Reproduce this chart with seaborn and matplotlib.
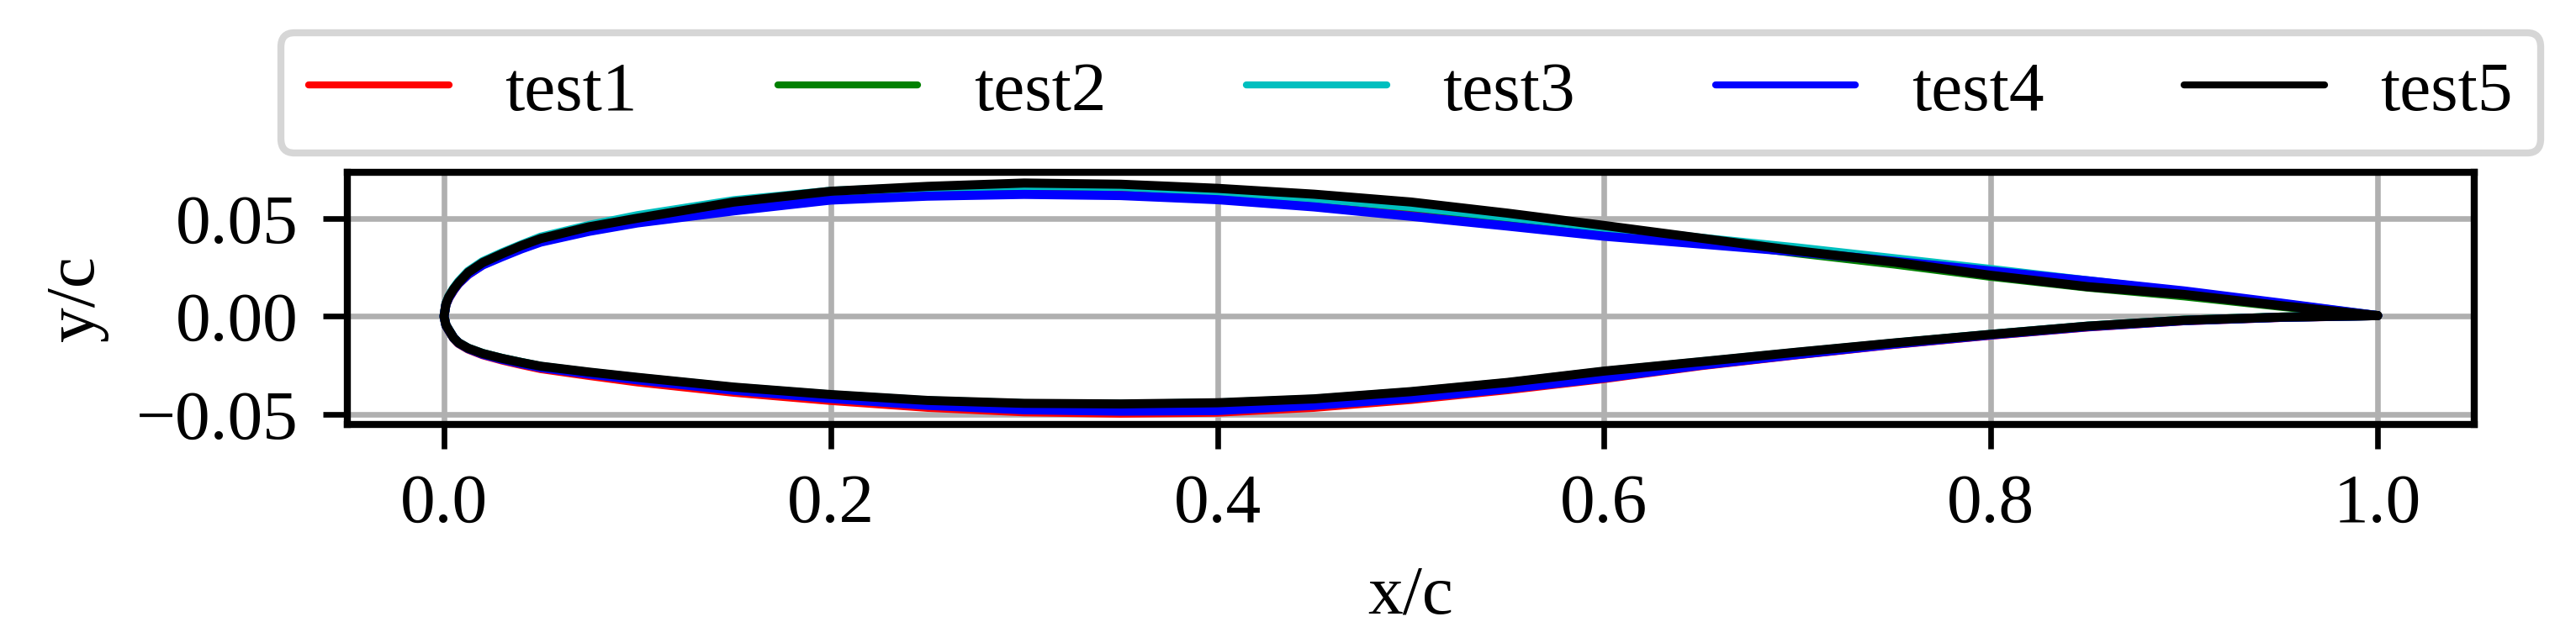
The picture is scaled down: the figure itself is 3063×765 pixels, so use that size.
import matplotlib
matplotlib.use("Agg")
import matplotlib.pyplot as plt
import pandas as pd
import seaborn as sns

# chord stations (x/c), shared by every test
X_STATIONS = [0.0, 0.001, 0.0025, 0.005, 0.0075, 0.0125, 0.02, 0.03, 0.04, 0.05, 0.075,
              0.1, 0.15, 0.2, 0.25, 0.3, 0.35, 0.4, 0.45, 0.5, 0.55, 0.6, 0.65, 0.7,
              0.75, 0.8, 0.85, 0.9, 0.95, 1.0]

# upper / lower surface y/c
TEST1_UPPER = [0.0, 0.0061, 0.0095, 0.0135, 0.0168, 0.0215, 0.0265, 0.0310, 0.0350, 0.0385,
               0.0440, 0.0485, 0.0550, 0.0600, 0.0622, 0.0632, 0.0630, 0.0615, 0.0585,
               0.0545, 0.0495, 0.0438, 0.0385, 0.0332, 0.0278, 0.0225, 0.0170, 0.0118,
               0.0060, 0.0004]
TEST1_LOWER = [0.0, -0.0046, -0.0072, -0.0112, -0.0138, -0.0167, -0.0196, -0.0223, -0.0246,
               -0.0267, -0.0302, -0.0335, -0.0388, -0.0430, -0.0465, -0.0488, -0.0495,
               -0.0490, -0.0465, -0.0425, -0.0375, -0.0318, -0.0252, -0.0196, -0.0143,
               -0.0096, -0.0054, -0.0022, -0.0005, 0.0004]

TEST2_UPPER = [0.0, 0.0063, 0.0100, 0.0140, 0.0172, 0.0224, 0.0274, 0.0318, 0.0360, 0.0398,
               0.0460, 0.0505, 0.0582, 0.0632, 0.0655, 0.0668, 0.0665, 0.0642, 0.0605,
               0.0560, 0.0505, 0.0448, 0.0388, 0.0325, 0.0268, 0.0205, 0.0150, 0.0105,
               0.0052, 0.0004]
TEST2_LOWER = [0.0, -0.0045, -0.0070, -0.0110, -0.0135, -0.0164, -0.0191, -0.0216, -0.0237,
               -0.0257, -0.0290, -0.0317, -0.0367, -0.0405, -0.0435, -0.0450, -0.0453,
               -0.0447, -0.0427, -0.0390, -0.0342, -0.0285, -0.0236, -0.0186, -0.0138,
               -0.0093, -0.0051, -0.0020, -0.0004, 0.0004]

TEST3_UPPER = [0.0, 0.0064, 0.0102, 0.0143, 0.0177, 0.0230, 0.0280, 0.0325, 0.0366, 0.0405,
               0.0465, 0.0515, 0.0592, 0.0640, 0.0660, 0.0670, 0.0665, 0.0640, 0.0605,
               0.0562, 0.0510, 0.0455, 0.0400, 0.0350, 0.0295, 0.0240, 0.0182, 0.0125,
               0.0065, 0.0004]
TEST3_LOWER = [0.0, -0.0045, -0.0070, -0.0110, -0.0135, -0.0163, -0.0190, -0.0215, -0.0236,
               -0.0256, -0.0287, -0.0314, -0.0364, -0.0402, -0.0432, -0.0447, -0.0450,
               -0.0444, -0.0424, -0.0387, -0.0340, -0.0282, -0.0233, -0.0184, -0.0137,
               -0.0092, -0.0050, -0.0020, -0.0004, 0.0004]

TEST4_UPPER = [0.0, 0.0061, 0.0095, 0.0135, 0.0168, 0.0215, 0.0263, 0.0305, 0.0345, 0.0380,
               0.0435, 0.0478, 0.0540, 0.0595, 0.0615, 0.0624, 0.0618, 0.0597, 0.0560,
               0.0512, 0.0462, 0.0410, 0.0370, 0.0330, 0.0282, 0.0232, 0.0182, 0.0130,
               0.0068, 0.0004]
TEST4_LOWER = [0.0, -0.0046, -0.0071, -0.0110, -0.0136, -0.0165, -0.0194, -0.0220, -0.0242,
               -0.0262, -0.0295, -0.0325, -0.0378, -0.0420, -0.0455, -0.0478, -0.0485,
               -0.0482, -0.0455, -0.0418, -0.0370, -0.0315, -0.0250, -0.0195, -0.0142,
               -0.0095, -0.0053, -0.0022, -0.0005, 0.0004]

TEST5_UPPER = [0.0, 0.0063, 0.0100, 0.0140, 0.0172, 0.0225, 0.0275, 0.0320, 0.0362, 0.0398,
               0.0458, 0.0502, 0.0585, 0.0640, 0.0665, 0.0682, 0.0676, 0.0655, 0.0625,
               0.0585, 0.0528, 0.0465, 0.0400, 0.0335, 0.0278, 0.0210, 0.0152, 0.0112,
               0.0055, 0.0004]
TEST5_LOWER = [0.0, -0.0045, -0.0070, -0.0110, -0.0135, -0.0163, -0.0190, -0.0215, -0.0236,
               -0.0255, -0.0285, -0.0312, -0.0362, -0.0400, -0.0430, -0.0445, -0.0448,
               -0.0442, -0.0422, -0.0385, -0.0338, -0.0280, -0.0232, -0.0183, -0.0136,
               -0.0092, -0.0050, -0.0020, -0.0004, 0.0004]

LABELS = ["test1", "test2", "test3", "test4", "test5"]
COLORS = ["#ff0000", "#008000", "#00bfbf", "#0000ff", "#000000"]
X_TICKS = [0.0, 0.2, 0.4, 0.6, 0.8, 1.0]
Y_TICKS = [-0.05, 0.0, 0.05]

SURFACES = {
    "test1": (TEST1_UPPER, TEST1_LOWER),
    "test2": (TEST2_UPPER, TEST2_LOWER),
    "test3": (TEST3_UPPER, TEST3_LOWER),
    "test4": (TEST4_UPPER, TEST4_LOWER),
    "test5": (TEST5_UPPER, TEST5_LOWER),
}

sns.set_theme(style="ticks")
plt.rcParams.update({
    "font.family": ["Liberation Serif", "DejaVu Serif"],
    "font.size": 10,
    "axes.labelsize": 10,
    "xtick.labelsize": 10,
    "ytick.labelsize": 10,
    "legend.fontsize": 10,
    "axes.edgecolor": "black",
    "axes.linewidth": 1.0,
    "xtick.color": "black",
    "ytick.color": "black",
    "text.color": "black",
    "axes.labelcolor": "black",
    "xtick.major.size": 3.5,
    "ytick.major.size": 3.5,
    "xtick.major.width": 0.8,
    "ytick.major.width": 0.8,
    "axes.unicode_minus": True,
})

# closed contour: trailing edge -> leading edge along upper, back along lower
rows = []
for name in LABELS:
    upper, lower = SURFACES[name]
    xs = X_STATIONS[::-1] + X_STATIONS[1:]
    ys = upper[::-1] + lower[1:]
    for i, (x, y) in enumerate(zip(xs, ys)):
        rows.append({"test": name, "order": i, "x": x, "y": y})
df = pd.DataFrame(rows)

fig = plt.figure(figsize=(3063 / 600, 765 / 600), dpi=600)
ax = fig.add_axes([413 / 3063, 1 - 505 / 765, (2942 - 413) / 3063, 300 / 765])

sns.lineplot(
    data=df, x="x", y="y", hue="test", hue_order=LABELS,
    palette=dict(zip(LABELS, COLORS)),
    sort=False, estimator=None, units="test", linewidth=1.3, ax=ax,
)

ax.set_xlim(-0.05, 1.05)
ax.set_ylim(-0.0553, 0.0737)
ax.set_xticks(X_TICKS)
ax.set_yticks(Y_TICKS)
ax.grid(True, color="#b0b0b0", linewidth=0.8)
ax.set_axisbelow(True)
ax.set_xlabel("x/c")
ax.set_ylabel("y/c")

leg = ax.legend(
    loc="lower center", bbox_to_anchor=(0.5, 1.077), borderaxespad=0,
    ncol=5, frameon=True, fancybox=True, framealpha=0.8, edgecolor="0.8",
)
for line in leg.get_lines():
    line.set_linewidth(1.0)

fig.savefig("out.png", dpi=600)
